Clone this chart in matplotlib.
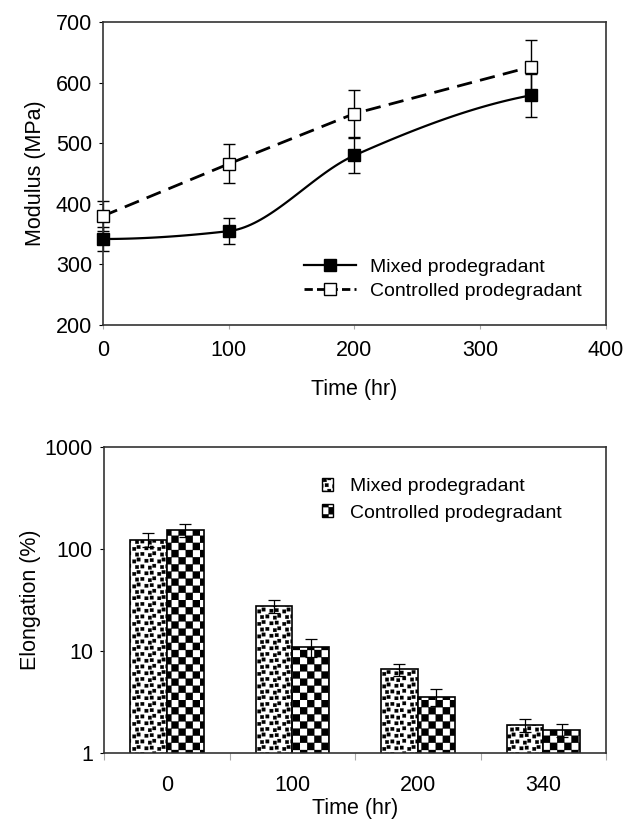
import numpy as np
import matplotlib
matplotlib.use("Agg")
import matplotlib.pyplot as plt
import matplotlib.hatch as mhatch
from matplotlib.path import Path
from matplotlib.patches import Patch
from matplotlib.lines import Line2D

plt.rcParams['font.family'] = ['Liberation Sans', 'DejaVu Sans']
plt.rcParams['hatch.linewidth'] = 0.2

# Modulus data
time_hr = [0, 100, 200, 340]
mod_mixed = [342, 355, 480, 579]
mod_mixed_err = [20, 21, 29, 36]
mod_ctrl = [380, 466, 549, 626]
mod_ctrl_err = [25, 32, 39, 44]

# Elongation data
groups = ["0", "100", "200", "340"]
elong_mixed = [124, 27.8, 6.6, 1.87]
elong_mixed_err = [19, 4.2, 0.9, 0.27]
elong_ctrl = [152, 10.9, 3.57, 1.67]
elong_ctrl_err = [22, 2.1, 0.65, 0.25]

labels = ["Mixed prodegradant", "Controlled prodegradant"]


#custom hatches: checkerboard on '*', confetti on 'o'
SQ = np.array([[0, 0], [1, 0], [1, 1], [0, 1], [0, 0]], dtype=float)
SQ_CODES = [Path.MOVETO, Path.LINETO, Path.LINETO, Path.LINETO, Path.CLOSEPOLY]


class CheckerHatch(mhatch.HatchPatternBase):
    def __init__(self, hatch, density):
        self.n = 14 if '*' in hatch else 0
        self.cells = [(i, j) for i in range(self.n) for j in range(self.n) if (i + j) % 2 == 0]
        self.num_vertices = len(self.cells) * 5

    def set_vertices_and_codes(self, vertices, codes):
        s = 1.0 / self.n
        for k, (i, j) in enumerate(self.cells):
            vertices[k*5:(k+1)*5] = SQ * s + [i*s, j*s]
            codes[k*5:(k+1)*5] = SQ_CODES


class ConfettiHatch(mhatch.HatchPatternBase):
    jit = [(0.0, 0.1), (0.2, -0.1), (-0.1, 0.2), (0.15, 0.0)]

    def __init__(self, hatch, density):
        self.n = 16 if 'o' in hatch else 0
        self.cells = [(i, j) for i in range(self.n) for j in range(self.n)]
        self.num_vertices = len(self.cells) * 5

    def set_vertices_and_codes(self, vertices, codes):
        s = 1.0 / self.n
        a = 0.55 * s
        for k, (i, j) in enumerate(self.cells):
            jx, jy = self.jit[(i + 2*j) % 4]
            x0 = ((i + 0.5*(j % 2) + jx) * s) % 1.0
            x0 = min(x0, 1 - a)
            y0 = min(max((j + jy) * s, 0), 1 - a)
            vertices[k*5:(k+1)*5] = SQ * a + [x0, y0]
            codes[k*5:(k+1)*5] = SQ_CODES


for idx, cls in enumerate(mhatch._hatch_types):
    if cls.__name__ == "Stars":
        mhatch._hatch_types[idx] = CheckerHatch
    elif cls.__name__ == "SmallCircles":
        mhatch._hatch_types[idx] = ConfettiHatch


def pchip_curve(x, y, n=40):
    # monotone cubic through the points (smoothed line look)
    x = np.asarray(x, float)
    y = np.asarray(y, float)
    h = np.diff(x)
    d = np.diff(y) / h
    m = np.zeros_like(y)
    for k in range(1, len(x) - 1):
        if d[k-1] * d[k] > 0:
            w1 = 2*h[k] + h[k-1]
            w2 = h[k] + 2*h[k-1]
            m[k] = (w1 + w2) / (w1/d[k-1] + w2/d[k])
    m[0] = max(((2*h[0] + h[1])*d[0] - h[0]*d[1]) / (h[0] + h[1]), 0)
    m[-1] = max(((2*h[-1] + h[-2])*d[-1] - h[-1]*d[-2]) / (h[-1] + h[-2]), 0)
    xs, ys = [], []
    for k in range(len(x) - 1):
        t = np.linspace(0, 1, n)
        h00 = 2*t**3 - 3*t**2 + 1
        h10 = t**3 - 2*t**2 + t
        h01 = -2*t**3 + 3*t**2
        h11 = t**3 - t**2
        xs.append(x[k] + t*h[k])
        ys.append(h00*y[k] + h10*h[k]*m[k] + h01*y[k+1] + h11*h[k]*m[k+1])
    return np.concatenate(xs), np.concatenate(ys)


fig = plt.figure(figsize=(6.23, 8.21), dpi=100)
fs = 15.5
lfs = 14
spine_col = "#333333"

#%% Top: modulus
ax1 = fig.add_axes([0.1653, 0.6041, 0.8074, 0.369])
xs, ys = pchip_curve(time_hr, mod_mixed)
ax1.plot(xs, ys, color="black", lw=1.6)
ax1.errorbar(time_hr, mod_mixed, yerr=mod_mixed_err, fmt="none", ecolor="black",
             elinewidth=1, capsize=4, capthick=1, clip_on=False)
ax1.plot(time_hr, mod_mixed, "s", color="black", ms=8, mfc="black", clip_on=False, zorder=4)
ax1.plot(time_hr, mod_ctrl, color="black", lw=2, dashes=(5.5, 3))
ax1.errorbar(time_hr, mod_ctrl, yerr=mod_ctrl_err, fmt="none", ecolor="black",
             elinewidth=1, capsize=4, capthick=1, clip_on=False)
ax1.plot(time_hr, mod_ctrl, "s", color="black", ms=8, mfc="white", mew=1, clip_on=False, zorder=4)

ax1.set_xlim(0, 400)
ax1.set_ylim(200, 700)
ax1.set_xticks([0, 100, 200, 300, 400])
ax1.set_yticks([200, 300, 400, 500, 600, 700])
ax1.tick_params(direction="out", length=3, width=0.8, labelsize=fs, pad=5, colors="black")
ax1.tick_params(axis="x", color="#aaaaaa", pad=8)
ax1.set_xlabel("Time (hr)", fontsize=fs, labelpad=13)
ax1.set_ylabel("Modulus (MPa)", fontsize=fs, labelpad=7)
for sp in ax1.spines.values():
    sp.set_color(spine_col)
    sp.set_linewidth(1.2)

h1 = Line2D([], [], color="black", lw=1.6, marker="s", ms=8, mfc="black")
h2 = Line2D([], [], color="black", lw=2, dashes=(3, 1.5), marker="s", ms=8, mfc="white", mew=1)
ax1.legend([h1, h2], labels, loc="lower left", bbox_to_anchor=(0.38, 0.052), frameon=False,
           fontsize=lfs, handlelength=2.7, handletextpad=0.7, labelspacing=0.3, borderpad=0)

#%% Bottom: elongation
ax2 = fig.add_axes([0.167, 0.0828, 0.806, 0.3727])
x = np.arange(len(groups))
w = 0.293
ax2.bar(x - w/2, elong_mixed, w, color="white", edgecolor="black", lw=1.2, hatch="o")
ax2.bar(x + w/2, elong_ctrl, w, color="white", edgecolor="black", lw=1.2, hatch="*")
ax2.errorbar(x - w/2, elong_mixed, yerr=elong_mixed_err, fmt="none", ecolor="black",
             elinewidth=0.9, capsize=4, capthick=0.9)
ax2.errorbar(x + w/2, elong_ctrl, yerr=elong_ctrl_err, fmt="none", ecolor="black",
             elinewidth=0.9, capsize=4, capthick=0.9)
ax2.set_yscale("log")
ax2.set_ylim(1, 1000)
ax2.set_xlim(-0.5, 3.5)
ax2.set_yticks([1, 10, 100, 1000])
ax2.set_yticklabels(["1", "10", "100", "1000"])
ax2.yaxis.set_minor_locator(matplotlib.ticker.NullLocator())
ax2.set_xticks(x)
ax2.set_xticklabels(groups)
ax2.set_xticks(np.arange(-0.5, 4, 1), minor=True)
ax2.tick_params(axis="x", which="major", length=0, labelsize=fs, pad=16)
ax2.tick_params(axis="x", which="minor", direction="out", length=5, width=0.8, color="#aaaaaa")
ax2.tick_params(axis="y", direction="out", length=3, width=0.8, labelsize=fs, pad=5)
ax2.set_xlabel("Time (hr)", fontsize=fs, labelpad=1)
ax2.set_ylabel("Elongation (%)", fontsize=fs, labelpad=3)
for sp in ax2.spines.values():
    sp.set_color(spine_col)
    sp.set_linewidth(1.2)

p1 = Patch(facecolor="white", edgecolor="black", hatch="o", lw=1)
p2 = Patch(facecolor="white", edgecolor="black", hatch="*", lw=1)
ax2.legend([p1, p2], labels, loc="upper left", bbox_to_anchor=(0.415, 0.93), frameon=False,
           fontsize=lfs, handlelength=0.55, handleheight=0.65, handletextpad=0.9,
           labelspacing=0.45, borderpad=0)

fig.savefig("out.png", dpi=100)
